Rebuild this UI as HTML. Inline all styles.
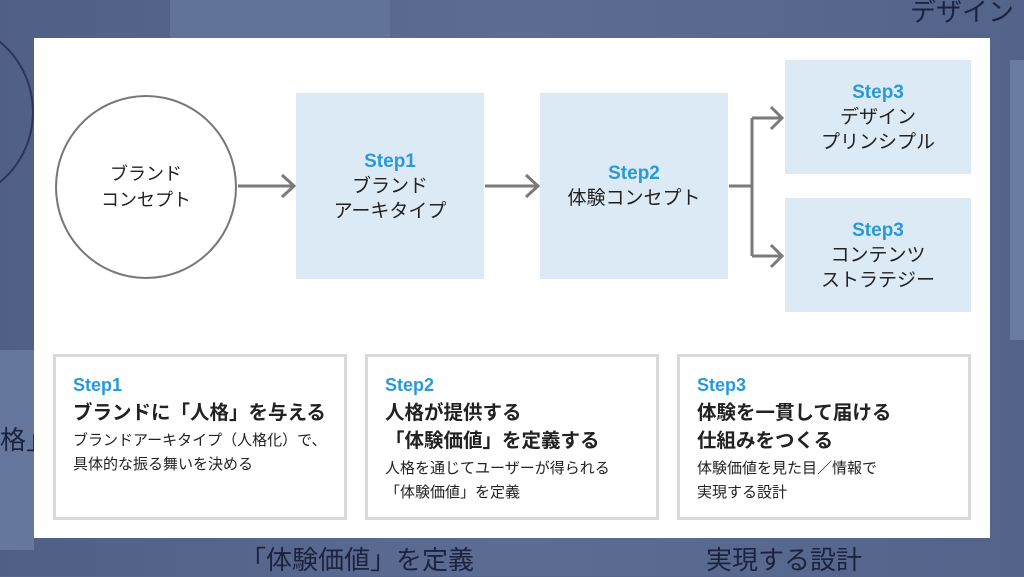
<!DOCTYPE html>
<html><head><meta charset="utf-8"><style>
body{margin:0;width:1024px;height:576px;overflow:hidden;background:#56668c;font-family:"Liberation Sans","Noto Sans CJK JP",sans-serif;position:relative}
.a{position:absolute}
.panel{left:34px;top:38px;width:956px;height:500px;background:#fff}
.box{background:#dceaf5;text-align:center;color:#222;font-size:19px;line-height:25px;display:flex;flex-direction:column;justify-content:center}
.s{color:#2a9ad6;font-weight:bold;font-size:19px}
.card{border:3px solid #dadada;box-sizing:border-box;width:294px;height:166px;top:354px;padding:17px 0 0 17px;color:#222}
.card .s{font-size:18px;line-height:22px}
.card .t{font-size:19.5px;font-weight:bold;line-height:28px;margin-top:3px}
.card .d{font-size:15px;line-height:24px;margin-top:2px}
.bgt{color:#1c2340;font-size:26px}
</style></head><body>
<div class="a" style="left:0;top:0;width:1024px;height:576px;background:linear-gradient(90deg,#4f5f86,#5c6c92 50%,#53638a)"></div>
<div class="a" style="left:170px;top:0;width:220px;height:38px;background:#62739a"></div>
<div class="a" style="left:1010px;top:60px;width:14px;height:280px;background:#6a7ba2"></div>
<div class="a" style="left:0;top:350px;width:34px;height:200px;background:#66779e"></div>
<div class="a" style="left:-150px;top:20px;width:180px;height:180px;border:2px solid #2c3558;border-radius:50%"></div>
<div class="a bgt" style="left:240px;top:540px">「体験価値」を定義</div>
<div class="a bgt" style="left:706px;top:540px">実現する設計</div>
<div class="a bgt" style="left:910px;top:-8px">デザイン</div>
<div class="a bgt" style="left:0px;top:420px">格」</div>
<div class="a panel"></div>
<div class="a" style="left:55px;top:95px;width:178px;height:180px;border:2px solid #777;border-radius:50%;display:flex;align-items:center;justify-content:center;text-align:center;font-size:18px;line-height:26px;color:#222">ブランド<br>コンセプト</div>
<div class="a box" style="left:296px;top:93px;width:188px;height:186px"><span class="s">Step1</span>ブランド<br>アーキタイプ</div>
<div class="a box" style="left:540px;top:93px;width:188px;height:186px"><span class="s">Step2</span>体験コンセプト</div>
<div class="a box" style="left:785px;top:60px;width:186px;height:114px"><span class="s">Step3</span>デザイン<br>プリンシプル</div>
<div class="a box" style="left:785px;top:198px;width:186px;height:114px"><span class="s">Step3</span>コンテンツ<br>ストラテジー</div>
<svg class="a" style="left:0;top:0" width="1024" height="576">
<g stroke="#7a7a7a" stroke-width="3" fill="none">
<path d="M238 186H294M282 175L294 186L282 197"/>
<path d="M485 186H538M526 175L538 186L526 197"/>
<path d="M729 186H752M752 118V256M752 118H782M752 256H782M771 107L782 118L771 129M771 245L782 256L771 267"/>
</g></svg>
<div class="a card" style="left:53px"><div class="s">Step1</div><div class="t">ブランドに「人格」を与える</div><div class="d">ブランドアーキタイプ（人格化）で、<br>具体的な振る舞いを決める</div></div>
<div class="a card" style="left:365px"><div class="s">Step2</div><div class="t">人格が提供する<br>「体験価値」を定義する</div><div class="d">人格を通じてユーザーが得られる<br>「体験価値」を定義</div></div>
<div class="a card" style="left:677px"><div class="s">Step3</div><div class="t">体験を一貫して届ける<br>仕組みをつくる</div><div class="d">体験価値を見た目／情報で<br>実現する設計</div></div>
</body></html>
